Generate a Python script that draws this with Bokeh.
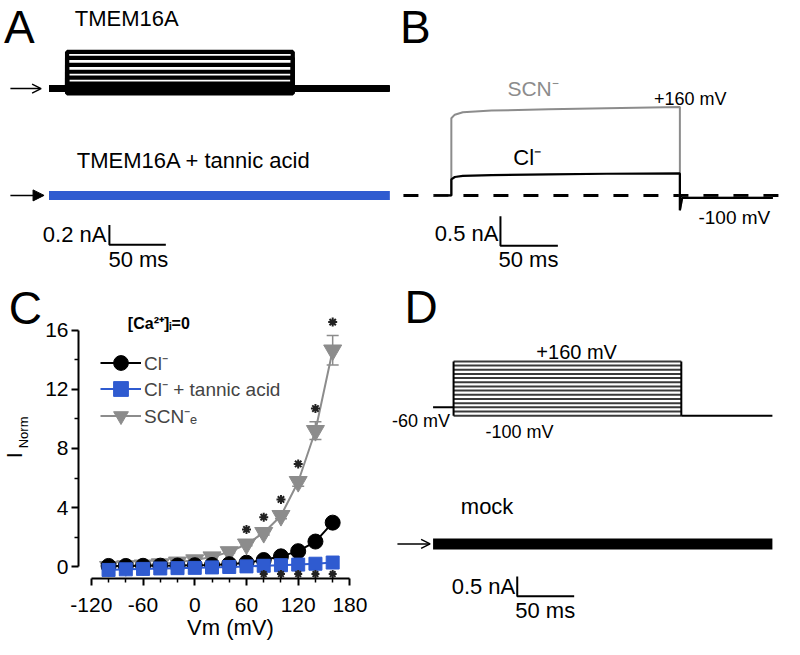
from bokeh.plotting import figure
from bokeh.models import (Range1d, Label, Arrow, OpenHead, NormalHead, FixedTicker,
                          Legend, LegendItem, Whisker, TeeHead, ColumnDataSource)
from bokeh.layouts import row, column
from bokeh.embed import file_html
from bokeh.resources import INLINE

FONT = "Liberation Sans"
BLUE = "#2f5bd0"
GRAY = "#8c8c8c"

# ---------------- data ----------------
# Panel C : normalized I-V, [Ca2+]i = 0
vm = [-100, -80, -60, -40, -20, 0, 20, 40, 60, 80, 100, 120, 140, 160]
cl = [0.05, 0.05, 0.06, 0.07, 0.08, 0.1, 0.12, 0.17, 0.27, 0.45, 0.7, 1.05, 1.7, 2.98]
cl_tannic = [-0.22, -0.18, -0.15, -0.12, -0.1, -0.08, -0.05, -0.02, 0.02, 0.06, 0.1, 0.14, 0.2, 0.28]
scn = [0.0, 0.05, 0.1, 0.18, 0.3, 0.45, 0.65, 1.0, 1.52, 2.3, 3.45, 5.75, 9.2, 14.65]
scn_err = [0.02, 0.02, 0.03, 0.03, 0.04, 0.05, 0.06, 0.08, 0.1, 0.15, 0.2, 0.3, 0.6, 1.0]
scn_sig_vm = [60, 80, 100, 120, 140, 160]
tannic_sig_vm = [80, 100, 120, 140, 160]
c_xticks = [-120, -60, 0, 60, 120, 180]
c_xminor = [-100, -80, -40, -20, 20, 40, 80, 100, 140, 160]
c_yticks = [0, 4, 8, 12, 16]
c_yminor = [2, 6, 10, 14]

# Panel A : TMEM16A current traces (ms, nA)
a_times = [0, 16, 216, 302]          # trace start, pulse on, pulse off, trace end
a_amps = [-0.05, -0.04, -0.03, -0.02, -0.01, 0.0, 0.01, 0.02, 0.05, 0.11, 0.17, 0.24, 0.31, 0.37]
a_scale = (50, 0.2)                  # ms, nA

# Panel B : SCN- vs Cl- at +160 mV (ms, nA)
b_t = [0, 15, 15, 18, 25, 50, 100, 150, 214, 214, 216, 295]
b_scn = [0, 0, 1.30, 1.36, 1.40, 1.43, 1.45, 1.47, 1.49, -0.25, -0.04, -0.04]
b_cl = [0, 0, 0.27, 0.31, 0.33, 0.34, 0.355, 0.365, 0.37, -0.25, -0.04, -0.04]
b_scale = (50, 0.5)

# Panel D : voltage protocol (mV) and mock current (nA)
d_times = [0, 18, 218, 298]
d_steps = [-100, -80, -60, -40, -20, 0, 20, 40, 60, 80, 100, 120, 140, 160]
d_hold = -60
d_tail = -100
d_scale = (50, 0.5)

SPLIT = 282          # reference row boundary (px)
TOP_H, BOT_H = 279, 368


def lab(p, x, y, text, size, align="left", baseline="middle", color="black",
        bold=False, angle=0.0):
    p.add_layout(Label(x=x, y=y, text=text, text_font=FONT, text_font_size=f"{size}px",
                       text_align=align, text_baseline=baseline, text_color=color,
                       text_font_style="bold" if bold else "normal", angle=angle))


def bare(w, h, xr, yr):
    p = figure(width=w, height=h, x_range=xr, y_range=yr, min_border=0,
               toolbar_location=None, output_backend="svg",
               x_axis_location=None, y_axis_location=None, frame_align=False)
    p.grid.visible = False
    p.outline_line_color = None
    return p


def scalebar(p, x0, y0, dt, di, **kw):
    p.line([x0, x0, x0 + dt], [y0 + di, y0, y0], line_color="black", line_width=2, **kw)


# ---------------- Panel A ----------------
ax = lambda px: (px - 49) / 1.14
ay = lambda py: -(py - 89) / 100.0
ay2 = lambda py: -(py - 197) / 100.0
pA = bare(396, TOP_H, Range1d(ax(0), ax(400)), Range1d(ay(SPLIT), ay(0)))
pA.extra_y_ranges = {"tannic": Range1d(ay2(SPLIT), ay2(0))}
t0, t1, t2, t3 = a_times
for a in a_amps:
    pA.line([t0, t1, t1, t2, t2, t3], [0, 0, a, a, 0, 0], line_color="black", line_width=4.2)
pA.line([t0, t3], [0, 0], line_color="black", line_width=7)
pA.line([t0, t3], [0, 0], y_range_name="tannic", line_color=BLUE, line_width=9)
pA.add_layout(Arrow(x_start=ax(10), y_start=0, x_end=ax(41), y_end=0, line_width=1.5,
                    end=OpenHead(size=9, line_width=1.5)))
pA.add_layout(Arrow(x_start=ax(10), y_start=0, x_end=ax(44), y_end=0, line_width=1.5,
                    y_range_name="tannic",
                    end=NormalHead(size=11, fill_color="black", line_color="black")))
scalebar(pA, ax(110), ay(247), a_scale[0], a_scale[1])
lab(pA, ax(19), ay(27), "A", 46, align="center")
lab(pA, ax(75), ay(18), "TMEM16A", 22)
lab(pA, ax(77), ay(162), "TMEM16A + tannic acid", 22)
lab(pA, ax(107), ay(237), "0.2 nA", 22, align="right")
lab(pA, ax(109), ay(262), "50 ms", 22)

# ---------------- Panel B ----------------
bx = lambda px: (px - 438) / 1.16
by = lambda py: -(py - 197) / 60.0
pB = bare(396, TOP_H, Range1d(bx(400), bx(800)), Range1d(by(SPLIT), by(0)))
pB.line([bx(407), bx(790)], [0, 0], line_color="black", line_width=3, line_dash="15 15")
pB.line(b_t, b_scn, line_color=GRAY, line_width=2)
pB.line(b_t, b_cl, line_color="black", line_width=2.2)
scalebar(pB, bx(505), by(248), b_scale[0], b_scale[1])
lab(pB, bx(419), by(27), "B", 46, align="center")
lab(pB, bx(512), by(89), "SCN\u207b", 21, color=GRAY)
lab(pB, bx(660), by(100), "+160 mV", 18)
lab(pB, bx(518), by(159), "Cl\u207b", 22)
lab(pB, bx(705), by(219), "-100 mV", 19)
lab(pB, bx(503), by(236), "0.5 nA", 22, align="right")
lab(pB, bx(503), by(262), "50 ms", 22)

# ---------------- Panel C (letter + y label strip) ----------------
pCL = bare(42, BOT_H, Range1d(0, 42.4), Range1d(655, SPLIT))
lab(pCL, 25, 311, "C", 46, align="center")
lab(pCL, 14, 460, "I", 22, align="center", angle=1.5708)
lab(pCL, 23, 437, "Norm", 13, align="center", angle=1.5708)

# ---------------- Panel C ----------------
cx = lambda px: -120 + (px - 91) / 0.8733
cy = lambda py: -(py - 573) / 15.0
pC = figure(width=348, height=BOT_H, x_range=Range1d(cx(78), cx(386)),
            y_range=Range1d(cy(585), cy(315)), min_border_left=35, min_border_right=8,
            min_border_top=33, min_border_bottom=69, toolbar_location=None,
            output_backend="svg", frame_align=False)
pC.grid.visible = False
pC.outline_line_color = None
for axis, tk, mn, bnd in ((pC.xaxis[0], c_xticks, c_xminor, (-120, 180)),
                          (pC.yaxis[0], c_yticks, c_yminor, (0, 16))):
    axis.ticker = FixedTicker(ticks=tk, minor_ticks=mn)
    axis.bounds = bnd
    axis.axis_line_width = 2
    axis.major_tick_line_width = 2
    axis.minor_tick_line_width = 1.5
    axis.major_tick_out = 7
    axis.major_tick_in = 0
    axis.minor_tick_out = 4
    axis.minor_tick_in = 0
    axis.major_label_text_font = FONT
    axis.major_label_text_font_size = "21px"
    axis.major_label_text_color = "black"
    axis.major_label_overrides = {t: str(t) for t in tk}
pC.xaxis.major_label_standoff = 12
pC.yaxis.major_label_standoff = 3
pC.xaxis.axis_label = "Vm (mV)"
pC.xaxis.axis_label_text_font = FONT
pC.xaxis.axis_label_text_font_size = "22px"
pC.xaxis.axis_label_text_font_style = "normal"
pC.xaxis.axis_label_text_color = "black"
pC.xaxis.axis_label_standoff = 0

src = ColumnDataSource(dict(x=vm, up=[s + e for s, e in zip(scn, scn_err)],
                            lo=[s - e for s, e in zip(scn, scn_err)]))
pC.add_layout(Whisker(source=src, base="x", upper="up", lower="lo", line_color=GRAY,
                      line_width=1.5,
                      upper_head=TeeHead(size=12, line_color=GRAY, line_width=1.5),
                      lower_head=TeeHead(size=12, line_color=GRAY, line_width=1.5)))
r_sl = pC.line(vm, scn, line_color=GRAY, line_width=2)
r_sm = pC.scatter(vm, scn, marker="inverted_triangle", size=18, fill_color=GRAY,
                  line_color=GRAY)
r_cl = pC.line(vm, cl, line_color="black", line_width=2)
r_cm = pC.scatter(vm, cl, marker="circle", size=15, fill_color="black", line_color="black")
r_tl = pC.line(vm, cl_tannic, line_color=BLUE, line_width=2)
r_tm = pC.scatter(vm, cl_tannic, marker="square", size=13, fill_color=BLUE, line_color=BLUE)

sig_y = [scn[vm.index(v)] + scn_err[vm.index(v)] + 0.9 for v in scn_sig_vm]
pC.scatter(scn_sig_vm, sig_y, marker="asterisk", size=9, line_color="#222222", line_width=2)
pC.scatter(tannic_sig_vm, [-0.5] * len(tannic_sig_vm), marker="asterisk", size=8,
           line_color="#222222", line_width=2)

# one legend per row so that the sample markers keep a readable size
rows = [("Cl\u207b", [r_cl, r_cm], 367), ("Cl\u207b + tannic acid", [r_tl, r_tm], 393.5),
        ("SCN\u207b\u2091", [r_sl, r_sm], 421)]
for text, rends, yc in rows:
    lg = Legend(items=[LegendItem(label=text, renderers=rends)],
                location=(22, round((585 - yc) * 0.988 - 18.5)), border_line_color=None,
                background_fill_alpha=0, padding=0, margin=0, spacing=0, glyph_width=41,
                glyph_height=37, label_height=37, label_standoff=3, label_text_font=FONT,
                label_text_font_size="19px")
    pC.add_layout(lg)

lab(pC, cx(128), cy(326), "[Ca\u00b2\u207a]\u1d62=0", 16, bold=True)

# ---------------- Panel D ----------------
dx = lambda px: (px - 437) / 1.15
dy = lambda py: -100 - (py - 420) / 0.2115
dy2 = lambda py: -(py - 550) / 40.0
pD = bare(402, BOT_H, Range1d(dx(394), dx(800)), Range1d(dy(655), dy(SPLIT)))
pD.extra_y_ranges = {"nA": Range1d(dy2(655), dy2(SPLIT))}
u0, u1, u2, u3 = d_times
pD.multi_line([[u1, u2] for _ in d_steps], [[v, v] for v in d_steps],
              line_color="#3a3a3a", line_width=2)
pD.line([u1, u1], [min(d_steps), max(d_steps)], line_color="black", line_width=2)
pD.line([u2, u2], [min(d_steps), max(d_steps)], line_color="black", line_width=2)
pD.line([u0, u1], [d_hold, d_hold], line_color="black", line_width=2)
pD.line([u2, u3], [d_tail, d_tail], line_color="black", line_width=2)
pD.line([u0, u3], [0, 0], y_range_name="nA", line_color="black", line_width=11)
pD.add_layout(Arrow(x_start=dx(401), y_start=0, x_end=dx(434), y_end=0, line_width=1.5,
                    y_range_name="nA", end=OpenHead(size=9, line_width=1.5)))
scalebar(pD, dx(522), dy2(603), d_scale[0], d_scale[1], y_range_name="nA")
lab(pD, dx(425), dy(310), "D", 46, align="center")
lab(pD, dx(582), dy(355), "+160 mV", 20, align="center")
lab(pD, dx(454), dy(425), "-60 mV", 18, align="right")
lab(pD, dx(490), dy(437), "-100 mV", 18)
lab(pD, dx(465), dy(512), "mock", 22)
lab(pD, dx(520), dy(593), "0.5 nA", 22, align="right")
lab(pD, dx(520), dy(618), "50 ms", 22)

layout = column(row(pA, pB), row(pCL, pC, pD))
open("out.html", "w").write(file_html(layout, INLINE))
